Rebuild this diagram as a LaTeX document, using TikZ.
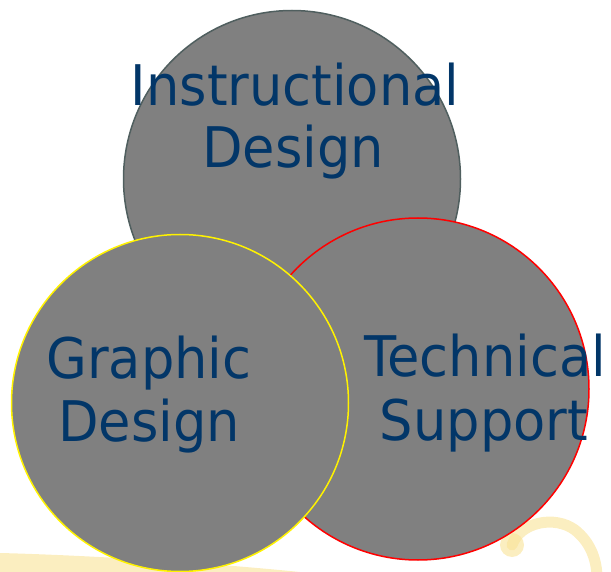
\documentclass[tikz,border=0pt]{standalone}
\usepackage{fontspec}
\setmainfont[FakeStretch=0.94]{DejaVu Sans}
\definecolor{circfill}{RGB}{128,128,128}
\definecolor{topedge}{RGB}{80,95,95}
\definecolor{txtblue}{RGB}{2,54,104}
\definecolor{swoosh}{RGB}{249,226,150}
\begin{document}
\begin{tikzpicture}[x=1pt,y=-1pt,
  venn/.style={circle,fill=circfill,line width=1.5pt,minimum size=#1,inner sep=0pt},
  lbl/.style={anchor=base,inner sep=0pt,text=txtblue,font=\fontsize{56}{64}\selectfont}]
\useasboundingbox (0,0) rectangle (611,572);
% background swooshes
\fill[swoosh,opacity=0.6] (0,553) .. controls (80,555) and (200,562) .. (300,572) -- (0,572) -- cycle;
\draw[swoosh,opacity=0.6,line width=11pt,line cap=round] (512,545) .. controls (520,522) and (555,515) .. (575,530) .. controls (590,542) and (596,558) .. (597,575);
\fill[swoosh,opacity=0.6] (512,545) circle (12);
% circles
\node[venn=337pt,draw=topedge] (top) at (292,179) {};
\node[venn=342pt,draw=red] (right) at (418,389) {};
\node[venn=337pt,draw=yellow] (left) at (180,403) {};
% labels
\node[lbl] (t1) at (295,106) {Instructional};
\node[lbl] (t2) at (293,168) {Design};
\node[lbl] (g1) at (149,378) {Graphic};
\node[lbl] (g2) at (149,441) {Design};
\node[lbl] (s1) at (485,377) {Technical};
\node[lbl] (s2) at (484,440) {Support};
\end{tikzpicture}
\end{document}
